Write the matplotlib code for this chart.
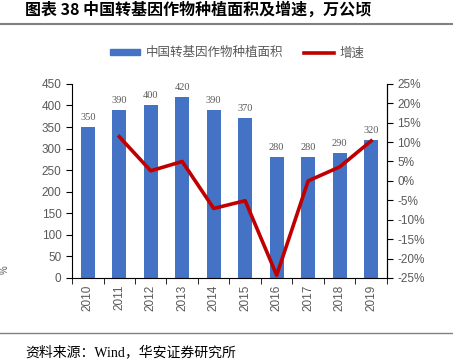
import numpy as np
import matplotlib
matplotlib.use("Agg")
from matplotlib import pyplot as plt
from matplotlib.lines import Line2D
from matplotlib.patches import Patch

plt.rcParams['font.family'] = ['Liberation Sans', 'Noto Sans CJK SC']

# podaci
godine = ['2010', '2011', '2012', '2013', '2014', '2015', '2016', '2017', '2018', '2019']
povrsina = [350, 390, 400, 420, 390, 370, 280, 280, 290, 320]
rast = [None, 11.4, 2.6, 5.0, -7.1, -5.1, -24.3, 0.0, 3.6, 10.3]

plava = '#4472C4'
crvena = '#C00000'
siva = '#595959'

fig = plt.figure(figsize=(4.53, 3.6), dpi=100)
ax = fig.add_axes([0.159, 0.228, 0.695, 0.539])
ax2 = ax.twinx()

x = np.arange(len(godine))
ax.bar(x, povrsina, width=0.45, color=plava, zorder=2)
for xi, v in zip(x, povrsina):
    ax.text(xi, v + 12, str(v), ha='center', va='bottom', fontsize=7.5,
            color=siva, family=['Liberation Serif'])

xr = [xi for xi, r in zip(x, rast) if r is not None]
yr = [r for r in rast if r is not None]
ax2.plot(xr, yr, color=crvena, lw=2.6, zorder=3)

ax.set_xlim(-0.5, len(godine) - 0.5)
ax.set_ylim(0, 450)
ax.set_yticks(range(0, 451, 50))
ax2.set_ylim(-25, 25)
ax2.set_yticks(range(-25, 26, 5))
ax2.set_yticklabels([f'{t}%' for t in range(-25, 26, 5)])

ax.set_xticks(x)
ax.set_xticklabels(godine, rotation=90)
ax.set_xticks(np.arange(-0.5, len(godine)), minor=True)
ax.tick_params(axis='x', which='major', length=0, pad=5, labelsize=8.5, labelcolor=siva)
ax.tick_params(axis='x', which='minor', length=4, direction='out', color='black')
ax.tick_params(axis='y', length=4, direction='out', labelsize=8.5, labelcolor=siva)
ax2.tick_params(axis='y', length=4, direction='out', labelsize=8.5, labelcolor=siva)

for a in (ax, ax2):
    a.spines['top'].set_visible(False)
ax2.spines['left'].set_visible(False)
ax2.spines['bottom'].set_visible(False)

handles = [Patch(color=plava), Line2D([0], [0], color=crvena, lw=2.6)]
fig.legend(handles, ['中国转基因作物种植面积', '增速'], loc='center',
           bbox_to_anchor=(0.524, 0.853), ncol=2, frameon=False,
           handlelength=2.4, handleheight=0.4, columnspacing=1.7,
           handletextpad=0.45, labelcolor=siva,
           prop={'family': ['Noto Sans CJK SC'], 'size': 9})

fig.text(0.055, 0.972, '图表 38 中国转基因作物种植面积及增速，万公顷', fontsize=11.5,
         fontweight='bold', va='center', family=['Noto Sans CJK SC'])
fig.add_artist(Line2D([0, 1], [0.933, 0.933], color='#808080', lw=1.5))
fig.add_artist(Line2D([0, 1], [0.075, 0.075], color='#808080', lw=1.0))
fig.text(0.055, 0.022, '资料来源：Wind，华安证券研究所', fontsize=10, va='center',
         family=['Liberation Serif', 'Noto Sans CJK SC'])
fig.text(0.0, 0.25, '%', fontsize=7, color=siva, rotation=90, va='center')

fig.savefig('out.png', dpi=100)
